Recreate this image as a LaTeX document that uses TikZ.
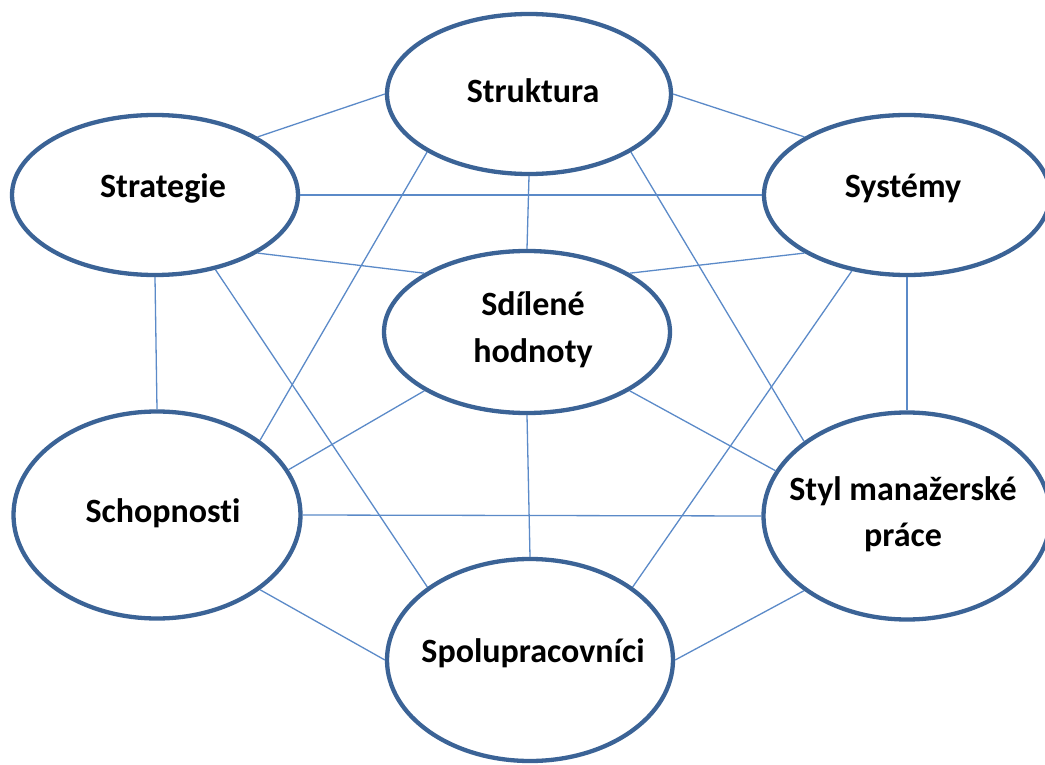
\documentclass[tikz,border=0pt]{standalone}
\usepackage{fontspec}
\setmainfont{Carlito}[Ligatures=NoCommon]
\usetikzlibrary{shapes.geometric}
\definecolor{rimblue}{HTML}{3B6396}
\definecolor{linkblue}{HTML}{5B8AC8}
\tikzset{
  oval/.style={ellipse, draw=rimblue, line width=4.3pt, fill=white, inner sep=0pt},
  word/.style={anchor=base, inner sep=0pt, font=\fontsize{34}{40}\selectfont\bfseries},
  link/.style={draw=linkblue, line width=1.3pt}
}
\begin{document}
\begin{tikzpicture}[x=1pt, y=-1pt]
\useasboundingbox (0,0) rectangle (1045,765);

% the seven elements
\node[oval, minimum width=284pt, minimum height=160pt] (struk) at (529,94)  {};
\node[oval, minimum width=286pt, minimum height=160pt] (strat) at (155,195) {};
\node[oval, minimum width=286pt, minimum height=160pt] (sys)   at (907,195) {};
\node[oval, minimum width=286pt, minimum height=162pt] (sdil)  at (527,332) {};
\node[oval, minimum width=287pt, minimum height=207pt] (schop) at (157,515) {};
\node[oval, minimum width=287pt, minimum height=207pt] (styl)  at (907,516) {};
\node[oval, minimum width=286pt, minimum height=202pt] (spol)  at (530,660) {};

% captions
\node[word] (t-struk) at (533,103) {Struktura};
\node[word] (t-strat) at (163,197) {Strategie};
\node[word] (t-sys)   at (903,197) {Systémy};
\node[word] (t-sdil1) at (533,315) {Sdílené};
\node[word] (t-sdil2) at (533,362) {hodnoty};
\node[word] (t-schop) at (163,522) {Schopnosti};
\node[word] (t-styl1) at (903,500) {Styl manažerské};
\node[word] (t-styl2) at (903,546) {práce};
\node[word] (t-spol)  at (533,662) {Spolupracovníci};

% every element is linked with every other one
\draw[link] (struk.west) -- (strat.north east);
\draw[link] (struk.east) -- (sys.north west);
\draw[link] (strat.east) -- (sys.west);
\draw[link] (struk.south) -- (sdil.north);
\draw[link] (strat.south east) -- (sdil.north west);
\draw[link] (sys.south west) -- (sdil.north east);
\draw[link] (struk.south west) -- (schop.north east);
\draw[link] (struk.south east) -- (styl.north west);
\draw[link] (strat.south) -- (schop.north);
\draw[link] (sys.south) -- (styl.north);
\draw[link] (strat.-51) -- (spol.north west);
\draw[link] (sys.234) -- (spol.north east);
\draw[link] (sdil.south west) -- (schop.19);
\draw[link] (sdil.south east) -- (styl.161.6);
\draw[link] (sdil.south) -- (spol.north);
\draw[link] (schop.east) -- (styl.west);
\draw[link] (schop.south east) -- (spol.west);
\draw[link] (styl.south west) -- (spol.east);
\end{tikzpicture}
\end{document}
